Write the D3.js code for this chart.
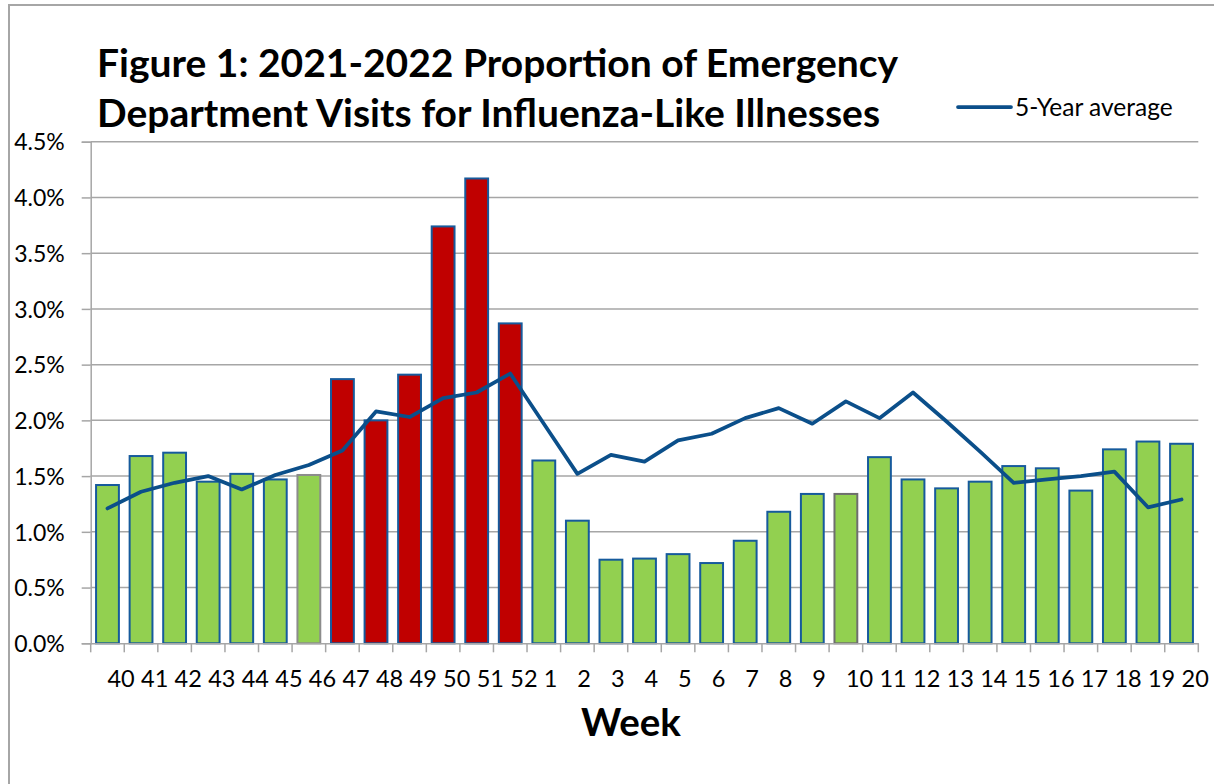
<!DOCTYPE html>
<html>
<head>
<meta charset="utf-8">
<script src="https://cdn.jsdelivr.net/npm/d3@7"></script>
<style>
  html, body { margin: 0; padding: 0; background: #fff; }
  svg { display: block; font-family: Lato, "Open Sans", sans-serif; }
</style>
</head>
<body>
<svg id="chart" width="1214" height="784"></svg>
<script>
// ---- data ----
const weeks = ["40","41","42","43","44","45","46","47","48","49","50","51","52",
  "1","2","3","4","5","6","7","8","9","10","11","12","13","14","15","16","17","18","19","20"];
const visitPct = [1.42,1.68,1.71,1.45,1.52,1.47,1.51,2.37,2.00,2.41,3.74,4.17,2.87,
  1.64,1.10,0.75,0.76,0.80,0.72,0.92,1.18,1.34,1.34,1.67,1.47,1.39,1.45,1.59,1.57,1.37,1.74,1.81,1.79];
const fiveYearAvg = [1.21,1.36,1.44,1.50,1.38,1.51,1.60,1.73,2.08,2.03,2.20,2.25,2.42,
  1.97,1.52,1.69,1.63,1.82,1.88,2.02,2.11,1.97,2.17,2.02,2.25,1.99,1.72,1.44,1.47,1.50,1.54,1.22,1.29];
const redWeeks = ["47","48","49","50","51","52"];
const greyOutlineWeeks = ["46","10"];
const yTicks = [0,0.5,1.0,1.5,2.0,2.5,3.0,3.5,4.0,4.5];
const titleLines = ["Figure 1: 2021-2022 Proportion of Emergency",
  "Department Visits for Influenza-Like Illnesses"];
const legendLabel = "5-Year average";
const xTitle = "Week";

// ---- layout ----
const svg = d3.select("#chart");
const plotL = 90.7, plotR = 1198.3, plotT = 141.7, plotB = 643.3;
const green = "#92D050", red = "#C00000", blue = "#0B4F8A", barStroke = "#165A9C";
const gridColor = "#A6A6A6";

const x = d3.scaleBand().domain(weeks).range([plotL, plotR]).padding(0);
const y = d3.scaleLinear().domain([0, 4.5]).range([plotB, plotT]);
const barW = x.bandwidth() * 0.68;

// outer frame
svg.append("rect").attr("x", 9).attr("y", 5).attr("width", 1220).attr("height", 800)
  .attr("fill", "none").attr("stroke", "#A6A6A6").attr("stroke-width", 2);

// gridlines
svg.append("g").selectAll("line").data(yTicks.filter(d => d > 0)).join("line")
  .attr("x1", plotL).attr("x2", plotR)
  .attr("y1", d => y(d)).attr("y2", d => y(d))
  .attr("stroke", gridColor).attr("stroke-width", 1.5);

// y axis
const yAxis = svg.append("g").attr("transform", `translate(${plotL},0)`)
  .call(d3.axisLeft(y).tickValues(yTicks).tickSize(9).tickPadding(17)
    .tickFormat(d => d3.format(".1f")(d) + "%"));
yAxis.select(".domain").attr("stroke", gridColor).attr("stroke-width", 1.5);
yAxis.selectAll(".tick line").attr("stroke", gridColor).attr("stroke-width", 1.5);
yAxis.selectAll(".tick text").attr("font-size", 23).attr("fill", "#000")
  .attr("font-family", "Lato, sans-serif").attr("dy", "0.36em");

// bars
svg.append("g").selectAll("rect").data(weeks).join("rect")
  .attr("x", (d) => x(d) + (x.bandwidth() - barW) / 2)
  .attr("width", barW)
  .attr("y", (d, i) => y(visitPct[i]))
  .attr("height", (d, i) => plotB - y(visitPct[i]))
  .attr("fill", d => redWeeks.includes(d) ? red : green)
  .attr("stroke", d => d === "10" ? "#6E6E6E" : (greyOutlineWeeks.includes(d) ? "#8C8C8C" : barStroke))
  .attr("stroke-width", 2);

// x axis
const xAxis = svg.append("g").attr("transform", `translate(0,${plotB})`)
  .call(d3.axisBottom(x).tickSize(0).tickPadding(0));
xAxis.select(".domain").attr("stroke", gridColor).attr("stroke-width", 1.5);
xAxis.selectAll(".tick text").attr("font-size", 23.5).attr("fill", "#000")
  .attr("font-family", "Lato, sans-serif")
  .attr("text-anchor", "start").attr("y", 44).attr("dy", 0);
// tick marks at category boundaries
svg.append("g").selectAll("line").data(d3.range(weeks.length + 1)).join("line")
  .attr("x1", i => plotL + i * x.step()).attr("x2", i => plotL + i * x.step())
  .attr("y1", plotB).attr("y2", plotB + 9)
  .attr("stroke", gridColor).attr("stroke-width", 1.5);

// 5-year average line
const line = d3.line()
  .x((d, i) => x(weeks[i]) + x.bandwidth() / 2)
  .y(d => y(d));
svg.append("path").datum(fiveYearAvg).attr("d", line)
  .attr("fill", "none").attr("stroke", blue).attr("stroke-width", 3.75)
  .attr("stroke-linejoin", "round").attr("stroke-linecap", "round");

// title
const title = svg.append("text").attr("x", 97).attr("y", 77)
  .attr("font-family", "Lato, sans-serif").attr("font-weight", "bold")
  .attr("font-size", 39).attr("fill", "#000");
titleLines.forEach((t, i) => {
  title.append("tspan").attr("x", 97).attr("y", 77 + i * 50).text(t);
});

// legend
svg.append("line").attr("x1", 958).attr("x2", 1011).attr("y1", 107).attr("y2", 107)
  .attr("stroke", blue).attr("stroke-width", 3.75).attr("stroke-linecap", "round");
svg.append("text").attr("x", 1015).attr("y", 115.5).text(legendLabel)
  .attr("font-family", "Lato, sans-serif").attr("font-size", 24.5).attr("fill", "#000");

// x title
svg.append("text").attr("x", 631).attr("y", 736).attr("text-anchor", "middle")
  .text(xTitle).attr("font-family", "Lato, sans-serif").attr("font-weight", "bold")
  .attr("font-size", 38.5).attr("fill", "#000");
</script>
</body>
</html>
